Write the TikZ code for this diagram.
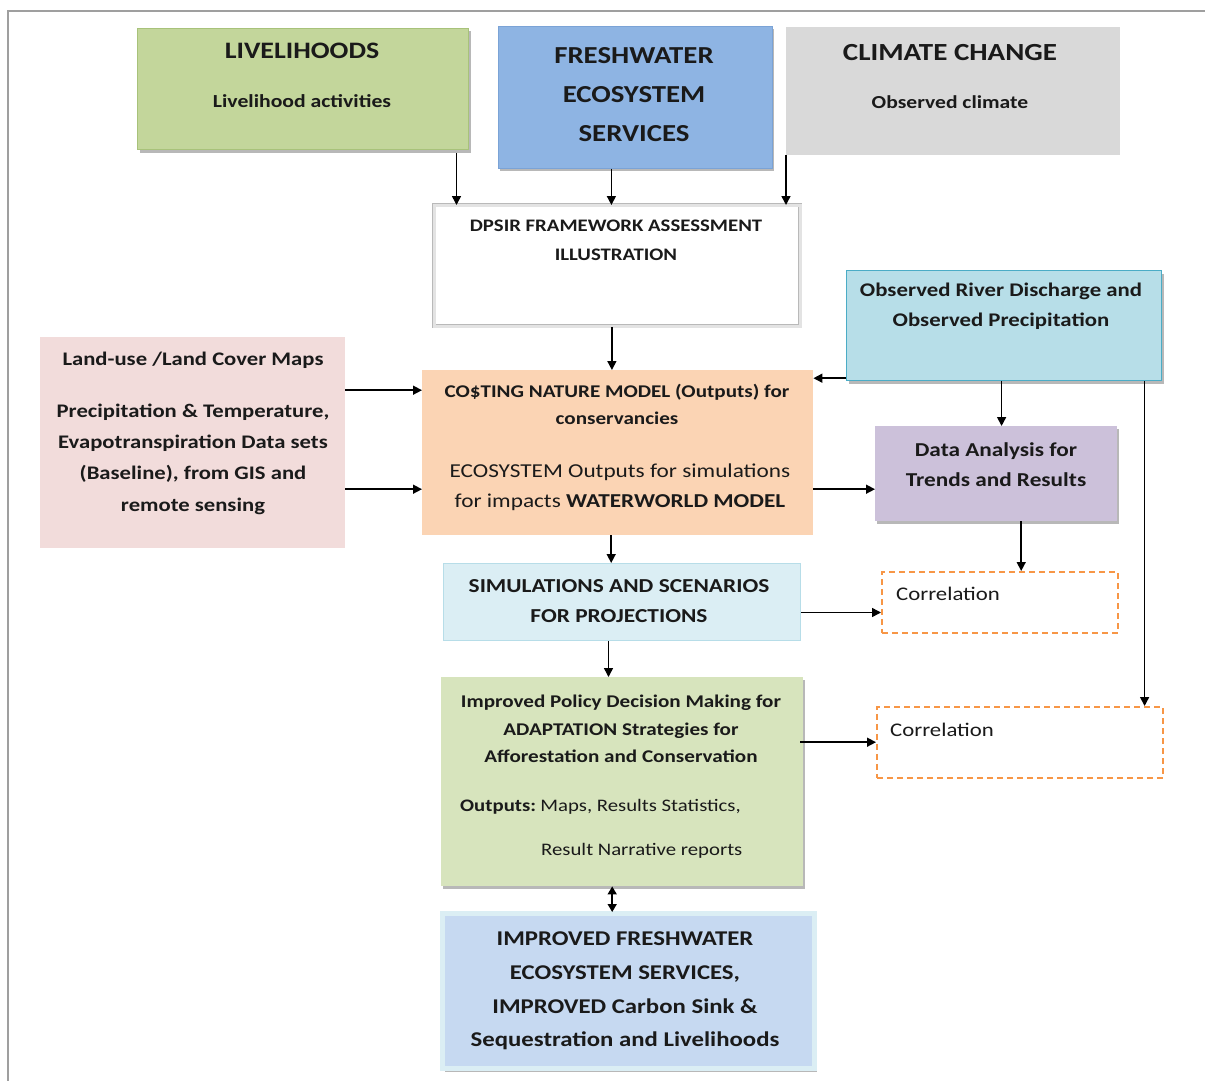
\documentclass[tikz,border=0pt]{standalone}
\usepackage{fontspec}
\setmainfont{Carlito}[FakeStretch=1.18]
\usetikzlibrary{arrows.meta,shadows,calc}
\definecolor{livg}{HTML}{C3D69B}
\definecolor{livgd}{HTML}{A8C27A}
\definecolor{fwb}{HTML}{8EB4E3}
\definecolor{fwbd}{HTML}{7BA3D6}
\definecolor{ccg}{HTML}{D9D9D9}
\definecolor{obsb}{HTML}{B7DEE8}
\definecolor{obsbd}{HTML}{4BACC6}
\definecolor{landp}{HTML}{F2DCDB}
\definecolor{costo}{HTML}{FBD4B4}
\definecolor{datap}{HTML}{CCC1DA}
\definecolor{simb}{HTML}{DBEEF4}
\definecolor{simbd}{HTML}{B7DDE8}
\definecolor{polg}{HTML}{D7E4BD}
\definecolor{imprb}{HTML}{C6D9F1}
\definecolor{corro}{HTML}{F79646}
\definecolor{txt}{HTML}{1A1A1A}
\tikzset{
  boxbase/.style={rectangle, anchor=north west, inner sep=0pt},
  shad/.style={drop shadow={shadow xshift=2pt, shadow yshift=-3pt, fill=black, opacity=0.28}},
  arr/.style={draw=black, line width=1.5pt, -{Triangle[length=9pt,width=9pt]}},
  darr/.style={draw=black, line width=1.5pt, {Triangle[length=8pt,width=9pt]}-{Triangle[length=8pt,width=9pt]}},
  tx/.style={text=txt, align=center, inner sep=0pt},
  corrbox/.style={boxbase, draw=corro, line width=1.5pt, dash pattern=on 6pt off 4pt, fill=white},
}
\begin{document}
\begin{tikzpicture}[x=1pt,y=-1pt]
\useasboundingbox (0,0) rectangle (1205,1081);
\fill[white] (0,0) rectangle (1205,1081);
% frame
\draw[draw=gray!75, line width=2pt] (8,1081) -- (8,11) -- (1205,11);

% boxes
\node[boxbase, shad, fill=livg, draw=livgd, line width=1pt, minimum width=331, minimum height=121] (liv) at (137,28) {};
\node[boxbase, shad, fill=fwb, draw=fwbd, line width=0.8pt, minimum width=274, minimum height=142] (fw) at (498,26) {};
\node[boxbase, fill=ccg, minimum width=334, minimum height=128] (cc) at (786,27) {};
\node[boxbase, fill=white, draw=gray!55, double=gray!22, double distance=2.5pt, line width=0.8pt, minimum width=366, minimum height=121] (dpsir) at (434,205) {};
\node[boxbase, shad, fill=obsb, draw=obsbd, line width=1.2pt, minimum width=315, minimum height=110] (obs) at (846,270) {};
\node[boxbase, fill=landp, minimum width=305, minimum height=211] (land) at (40,337) {};
\node[boxbase, fill=costo, minimum width=391, minimum height=165] (cost) at (422,370) {};
\node[boxbase, shad, fill=datap, minimum width=242, minimum height=95] (data) at (875,426) {};
\node[corrbox, minimum width=236, minimum height=61] (corr1) at (881,571) {};
\node[boxbase, fill=simb, draw=simbd, line width=1pt, minimum width=357, minimum height=77] (sim) at (443,563) {};
\node[boxbase, shad, fill=polg, minimum width=362, minimum height=209] (pol) at (441,677) {};
\node[corrbox, minimum width=286, minimum height=71] (corr2) at (876,706) {};
\node[boxbase, shad, fill=imprb, draw=simb, line width=5pt, minimum width=372, minimum height=155] (impr) at (440,911) {};

% texts
\node[tx, font=\fontsize{23.6}{28}\selectfont\bfseries] (tliv1) at (302,51) {LIVELIHOODS};
\node[tx, font=\fontsize{18.4}{20}\selectfont\bfseries] (tliv2) at (302,101) {Livelihood activities};
\node[tx, font=\fontsize{24.4}{39}\selectfont\bfseries] (tfw) at (634,95) {FRESHWATER\\ECOSYSTEM\\SERVICES};
\node[tx, font=\fontsize{24.6}{28}\selectfont\bfseries] (tcc1) at (950,53) {CLIMATE CHANGE};
\node[tx, font=\fontsize{18.3}{20}\selectfont\bfseries] (tcc2) at (950,102) {Observed climate};
\node[tx, font=\fontsize{17.6}{29}\selectfont\bfseries] (tdp) at (616,240) {DPSIR FRAMEWORK ASSESSMENT\\ILLUSTRATION};
\node[tx, font=\fontsize{19.3}{30}\selectfont\bfseries] (tobs) at (1001,306) {Observed River Discharge and\\Observed Precipitation};
\node[tx, font=\fontsize{19.2}{24}\selectfont\bfseries] (tland1) at (193,360) {Land-use /Land Cover Maps};
\node[tx, font=\fontsize{19.2}{31.3}\selectfont\bfseries] (tland2) at (193,459) {Precipitation \& Temperature,\\Evapotranspiration Data sets\\(Baseline), from GIS and\\remote sensing};
\node[tx, font=\fontsize{17.9}{27}\selectfont\bfseries] (tcost1) at (617,404) {CO\$TING NATURE MODEL (Outputs) for\\conservancies};
\node[tx, font=\fontsize{19.7}{30}\selectfont] (tcost2) at (620,487) {ECOSYSTEM Outputs for simulations\\for impacts \textbf{WATERWORLD MODEL}};
\node[tx, font=\fontsize{19.7}{30}\selectfont\bfseries] (tdata) at (996,465) {Data Analysis for\\Trends and Results};
\node[tx, anchor=west, font=\fontsize{19.3}{22}\selectfont] (tcorr1) at (896,594) {Correlation};
\node[tx, font=\fontsize{19.8}{30}\selectfont\bfseries] (tsim) at (619,601) {SIMULATIONS AND SCENARIOS\\FOR PROJECTIONS};
\node[tx, font=\fontsize{17.9}{27.5}\selectfont\bfseries] (tpol) at (621,729) {Improved Policy Decision Making for\\ADAPTATION Strategies for\\Afforestation and Conservation};
\node[tx, anchor=west, font=\fontsize{17.6}{20}\selectfont] (tpol2) at (460,807) {\textbf{Outputs:}\hspace{-2pt} Maps, Results Statistics,};
\node[tx, anchor=west, font=\fontsize{17.6}{20}\selectfont] (tpol3) at (541,851) {Result Narrative reports};
\node[tx, anchor=west, font=\fontsize{19.3}{22}\selectfont] (tcorr2) at (890,730) {Correlation};
\node[tx, font=\fontsize{21}{33.7}\selectfont\bfseries] (timpr) at (625,991) {IMPROVED FRESHWATER\\ECOSYSTEM SERVICES,\\IMPROVED Carbon Sink \&\\Sequestration and Livelihoods};

% connectors
\coordinate (a1) at ([xshift=153.5,yshift=-3]liv.south);
\draw[arr] (a1) -- (a1 |- dpsir.north);
\coordinate (a2) at ([xshift=-24]fw.south);
\draw[arr] (a2) -- (a2 |- dpsir.north);
\draw[arr] (cc.south west) -- (cc.south west |- dpsir.north);
\coordinate (a4) at ([xshift=-5.5]dpsir.south);
\draw[arr] (a4) -- (a4 |- cost.north);
\coordinate (o1) at ([yshift=3]obs.south west);
\draw[arr] (o1) -- (o1 -| cost.east);
\coordinate (o2) at ([xshift=-2.5]obs.south);
\draw[arr] (o2) -- (o2 |- data.north);
\coordinate (o3) at ([xshift=140.5]obs.south);
\draw[arr] (o3) -- (o3 |- corr2.north);
\coordinate (l1) at ([yshift=52.5]land.east);
\draw[arr] (l1) -- (l1 -| cost.west);
\coordinate (l2) at ([yshift=-46.5]land.east);
\draw[arr] (l2) -- (l2 -| cost.west);
\coordinate (c1) at ([yshift=-36.5]cost.east);
\draw[arr] (c1) -- (c1 -| data.west);
\coordinate (c2) at ([xshift=-6.5]cost.south);
\draw[arr] (c2) -- (c2 |- sim.north);
\coordinate (d1) at ([xshift=25]data.south);
\draw[arr] (d1) -- (d1 |- corr1.north);
\coordinate (s1) at ([yshift=-10.5]sim.east);
\draw[arr] (s1) -- (s1 -| corr1.west);
\coordinate (s2) at ([xshift=-13.5]sim.south);
\draw[arr] (s2) -- (s2 |- pol.north);
\coordinate (p1) at ([xshift=-3,yshift=39.5]pol.east);
\draw[arr] (p1) -- (p1 -| corr2.west);
\coordinate (p2) at ([xshift=-10]pol.south);
\draw[darr] (p2) -- ([yshift=-1]p2 |- impr.north);
\end{tikzpicture}
\end{document}
